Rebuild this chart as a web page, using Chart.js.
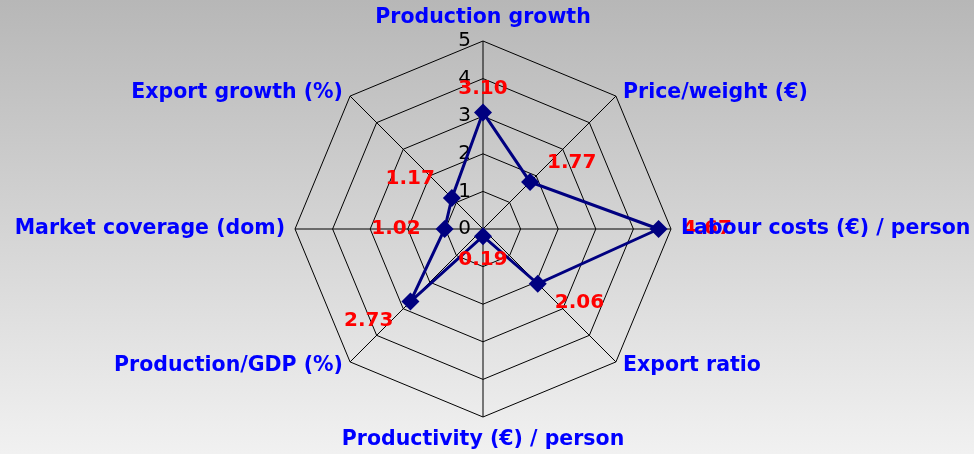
<!DOCTYPE html>
<html>
<head>
<meta charset="utf-8">
<script src="https://cdn.jsdelivr.net/npm/chart.js@4.4.0/dist/chart.umd.min.js"></script>
<style>
    html, body { margin: 0; padding: 0; }
    #wrap { width: 974px; height: 454px; }
</style>
</head>
<body>
<div id="wrap"><canvas id="radar" width="974" height="454"></canvas></div>
<script>
// dados do gráfico
const categorias = [
    'Production growth',
    'Price/weight (€)',
    'Labour costs (€) / person',
    'Export ratio',
    'Productivity (€) / person',
    'Production/GDP (%)',
    'Market coverage (dom)',
    'Export growth (%)'
];
const valores = [3.10, 1.77, 4.67, 2.06, 0.19, 2.73, 1.02, 1.17];
const escalaTicks = [0, 1, 2, 3, 4, 5];

// fundo em degradê
const fundo = {
    id: 'fundo',
    beforeDraw(chart) {
        const { ctx, width, height } = chart;
        const g = ctx.createLinearGradient(0, 0, 0, height);
        g.addColorStop(0, '#b7b7b7');
        g.addColorStop(1, '#f1f1f1');
        ctx.save();
        ctx.fillStyle = g;
        ctx.fillRect(0, 0, width, height);
        ctx.restore();
    }
};

// números da escala, à esquerda do eixo vertical
const ticksEscala = {
    id: 'ticksEscala',
    beforeDatasetsDraw(chart) {
        const scale = chart.scales.r;
        const ctx = chart.ctx;
        ctx.save();
        ctx.font = '20px "DejaVu Sans"';
        ctx.fillStyle = '#000';
        ctx.textAlign = 'right';
        ctx.textBaseline = 'middle';
        escalaTicks.forEach(v => {
            const d = scale.getDistanceFromCenterForValue(v);
            ctx.fillText(String(v), scale.xCenter - 12, scale.yCenter - d);
        });
        ctx.restore();
    }
};

// rótulos dos valores (vermelho) e das categorias (azul)
const rotulos = {
    id: 'rotulos',
    afterDatasetsDraw(chart) {
        const scale = chart.scales.r;
        const ctx = chart.ctx;
        const R = scale.drawingArea;
        ctx.save();
        ctx.textBaseline = 'middle';

        ctx.font = 'bold 20px "DejaVu Sans"';
        ctx.fillStyle = '#ff0000';
        valores.forEach((v, i) => {
            const p = scale.getPointPosition(i, scale.getDistanceFromCenterForValue(v) + 24);
            const c = Math.cos(p.angle);
            const s = Math.sin(p.angle);
            ctx.textAlign = Math.abs(c) < 0.1 ? 'center' : (c > 0 ? 'left' : 'right');
            const ajusteY = Math.abs(c) < 0.1 ? 0 : s * 3;
            ctx.fillText(v.toFixed(2), p.x, p.y + ajusteY);
        });

        ctx.font = 'bold 20.5px "DejaVu Sans"';
        ctx.fillStyle = '#0000ff';
        categorias.forEach((txt, i) => {
            const p = scale.getPointPosition(i, R + 10);
            const c = Math.cos(p.angle);
            const s = Math.sin(p.angle);
            let y;
            if (Math.abs(c) < 0.1) {
                ctx.textAlign = 'center';
                y = p.y + s * 13;
            } else {
                ctx.textAlign = c > 0 ? 'left' : 'right';
                y = scale.yCenter + s * (R + 5);
            }
            ctx.fillText(txt, p.x, y);
        });
        ctx.restore();
    }
};

new Chart(document.getElementById('radar'), {
    type: 'radar',
    data: {
        labels: categorias,
        datasets: [{
            data: valores,
            borderColor: '#000080',
            borderWidth: 3,
            backgroundColor: 'transparent',
            fill: false,
            pointStyle: 'rectRot',
            pointRadius: 9,
            pointBackgroundColor: '#000080',
            pointBorderColor: '#000080',
            pointBorderWidth: 0,
            tension: 0
        }]
    },
    options: {
        responsive: false,
        animation: false,
        layout: { padding: { top: 41, bottom: 37, left: 0, right: 8 } },
        plugins: { legend: { display: false }, tooltip: { enabled: false } },
        scales: {
            r: {
                min: 0,
                max: 5,
                ticks: { stepSize: 1, display: false, showLabelBackdrop: false },
                grid: { color: '#000', lineWidth: 1 },
                angleLines: { color: '#000', lineWidth: 1 },
                pointLabels: { display: false }
            }
        }
    },
    plugins: [fundo, ticksEscala, rotulos]
});
</script>
</body>
</html>
